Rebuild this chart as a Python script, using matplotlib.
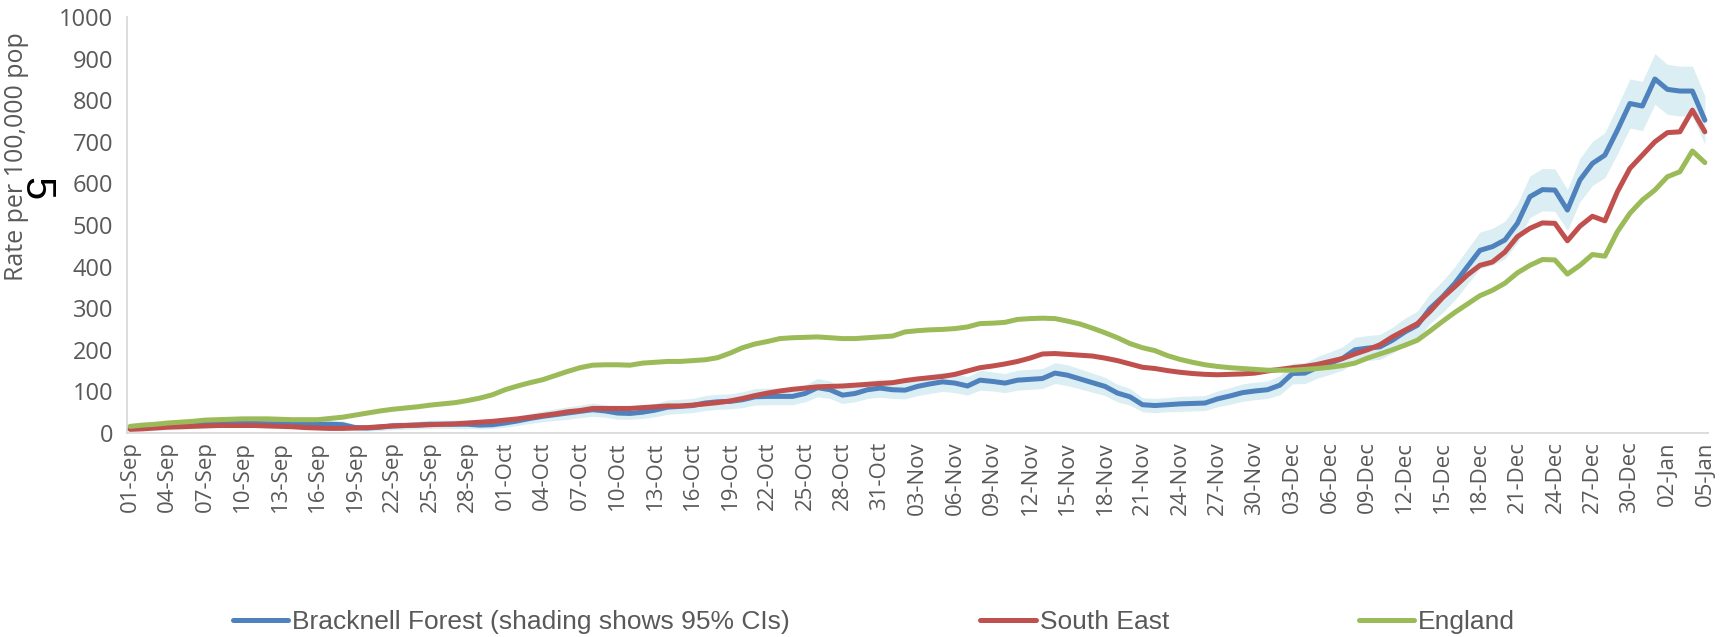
import numpy as np
import matplotlib
matplotlib.use("Agg")
from matplotlib import pyplot as plt

# daily dates 01-Sep .. 05-Jan
months = [("Sep", 30), ("Oct", 31), ("Nov", 30), ("Dec", 31), ("Jan", 5)]
dates = [f"{d:02d}-{m}" for m, n in months for d in range(1, n + 1)]

bracknell = [10, 12, 14, 16, 18, 20, 22, 23, 24, 24,
             23, 22, 22, 21, 21, 21, 21, 20, 13, 12,
             14, 17, 18, 19, 21, 21, 21, 21, 19, 20,
             24, 29, 35, 40, 44, 48, 52, 56, 53, 48,
             47, 50, 55, 62, 64, 66, 72, 75, 76, 80,
             87, 88, 88, 88, 95, 109, 104, 91, 95, 104, 108,
             104, 103, 112, 118, 123, 120, 113, 127, 124, 120,
             127, 129, 131, 144, 139, 130, 121, 112, 96, 87,
             68, 66, 68, 70, 71, 72, 82, 89, 97, 101,
             104, 115, 143, 144, 158, 168, 179, 200, 204, 207,
             223, 243, 259, 299, 327, 360, 400, 439, 448, 464,
             504, 568, 585, 584, 536, 608, 648, 668, 728, 792, 786,
             851, 826, 822, 822, 752]

# half width of the 95% CI band
bracknell_ci = [7, 7, 8, 8, 9, 9, 10, 10, 10, 10,
                10, 10, 10, 10, 10, 10, 10, 9, 8, 7,
                8, 9, 9, 9, 10, 10, 10, 10, 9, 9,
                10, 11, 12, 13, 14, 15, 15, 16, 15, 15,
                14, 15, 16, 17, 17, 17, 18, 18, 18, 19,
                20, 20, 20, 20, 20, 22, 21, 20, 20, 21, 22,
                21, 21, 22, 23, 23, 23, 22, 24, 23, 23,
                24, 24, 24, 25, 25, 24, 23, 22, 21, 20,
                17, 17, 17, 18, 18, 18, 19, 20, 21, 21,
                21, 23, 25, 25, 26, 27, 28, 30, 30, 30,
                31, 33, 34, 36, 38, 40, 42, 44, 44, 45,
                47, 50, 51, 51, 49, 52, 53, 54, 57, 59, 59,
                61, 60, 60, 60, 58]

south_east = [9, 10, 12, 14, 15, 16, 17, 18, 18, 18,
              18, 17, 16, 15, 13, 12, 11, 11, 12, 13,
              15, 17, 18, 19, 20, 21, 22, 24, 26, 28,
              31, 34, 38, 42, 46, 51, 54, 59, 59, 59,
              59, 61, 63, 65, 65, 67, 70, 73, 77, 83,
              90, 96, 101, 105, 108, 111, 112, 113, 115, 117, 119,
              121, 126, 130, 133, 136, 141, 149, 157, 161, 166,
              172, 180, 190, 191, 189, 187, 185, 180, 174, 166,
              158, 155, 150, 146, 143, 141, 140, 141, 142, 144,
              149, 153, 157, 160, 165, 172, 179, 190, 200, 212,
              231, 247, 263, 292, 325, 352, 380, 403, 411, 435,
              472, 492, 505, 504, 462, 497, 521, 510, 580, 636, 668,
              700, 722, 724, 776, 724]

england = [16, 19, 21, 24, 26, 28, 31, 32, 33, 34,
           34, 34, 33, 32, 32, 32, 35, 38, 43, 48,
           53, 57, 60, 63, 67, 70, 73, 78, 84, 92,
           104, 113, 121, 128, 138, 148, 157, 163, 164, 164,
           163, 168, 170, 172, 172, 174, 176, 181, 192, 205,
           214, 220, 227, 229, 230, 231, 229, 227, 227, 229, 231,
           233, 243, 246, 248, 249, 251, 255, 263, 264, 266,
           273, 275, 276, 275, 269, 262, 252, 241, 229, 215,
           205, 198, 186, 177, 170, 164, 160, 157, 155, 153,
           151, 151, 151, 153, 155, 158, 162, 168, 180, 190,
           200, 211, 223, 245, 268, 290, 310, 330, 343, 360,
           385, 403, 417, 416, 382, 403, 429, 425, 484, 528, 560,
           584, 616, 628, 678, 650]

blue = '#4F81BD'
red = '#C0504D'
green = '#9BBB59'
band = '#DAEEF3'
grey = '#595959'

W, H = 1728, 637
fig = plt.figure(figsize=(W / 100, H / 100), dpi=100)
ax = fig.add_axes([127 / W, 1 - 433 / H, (1708 - 127) / W, 416 / H])

x = np.arange(len(dates))
b = np.array(bracknell)
ci = np.array(bracknell_ci)
ax.fill_between(x, b - ci, b + ci, color=band, lw=0, zorder=1)
kw = dict(lw=3.6, solid_joinstyle='round', solid_capstyle='round')
ax.plot(x, bracknell, color=blue, zorder=2, label='Bracknell Forest (shading shows 95% CIs)', **kw)
ax.plot(x, south_east, color=red, zorder=3, label='South East', **kw)
ax.plot(x, england, color=green, zorder=4, label='England', **kw)

ax.set_xlim(-0.25, len(dates) - 0.75)
ax.set_ylim(0, 1000)
ax.set_yticks(range(0, 1001, 100))
ax.set_xticks(x[::3])
ax.set_xticklabels(dates[::3], rotation=90, family='Open Sans', fontsize=16, color=grey)
for t in ax.get_yticklabels():
    t.set_family('Open Sans')
    t.set_fontsize(17)
    t.set_color(grey)
ax.tick_params(axis='both', length=0)
ax.tick_params(axis='y', pad=10)
ax.tick_params(axis='x', pad=6)
for s in ['top', 'right']:
    ax.spines[s].set_visible(False)
for s in ['left', 'bottom']:
    ax.spines[s].set_color('#D9D9D9')
    ax.spines[s].set_linewidth(1.3)

fig.text(17 / W, 1 - 157 / H, 'Rate per 100,000 pop', rotation=90, ha='center', va='center',
         family='Open Sans', fontsize=18, color=grey)
fig.text(35 / W, 1 - 189 / H, '5', rotation=-90, ha='center', va='center',
         family='Liberation Sans', fontsize=30, color='black')

leg = fig.legend(loc='center left', bbox_to_anchor=(233 / W, 1 - 622 / H), ncol=3, frameon=False,
                 prop={'family': 'Liberation Sans', 'size': 19}, handlelength=2.1,
                 handletextpad=0.15, columnspacing=7.2, borderpad=0, borderaxespad=0)
for t in leg.get_texts():
    t.set_color(grey)

fig.savefig('out.png', dpi=100)
